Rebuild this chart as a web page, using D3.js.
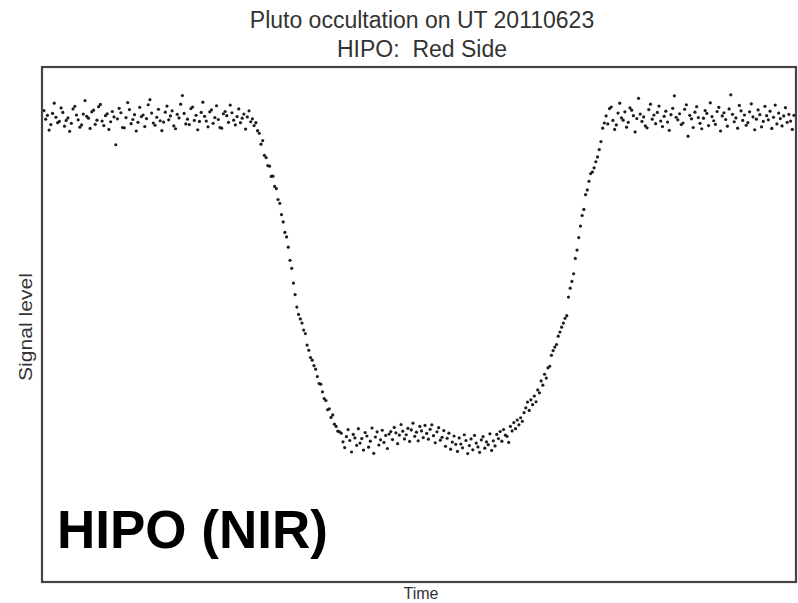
<!DOCTYPE html>
<html>
<head>
<meta charset="utf-8">
<script src="https://cdn.jsdelivr.net/npm/d3@7"></script>
<style>
  body { margin: 0; background: #fff; }
  svg { display: block; font-family: "Liberation Sans", Arial, sans-serif; }
</style>
</head>
<body>
<svg width="798" height="603"></svg>
<script>
// signal level per frame (baseline ~100)
var preEvent = [
  102.3, 99.6, 100.8, 96.2, 97.9, 101.4, 104.6, 100.2, 98.5, 98.9,
  103.1, 101.7, 97.4, 99.2, 100.0, 95.8, 98.3, 102.8, 103.6, 100.9,
  99.4, 97.1, 97.8, 101.2, 105.4, 100.5, 99.9, 96.7, 101.9, 102.4,
  98.0, 99.3, 103.5, 104.2, 99.0, 97.6, 100.7, 101.3, 96.4, 98.8,
  102.0, 100.3, 91.6, 99.7, 103.0, 101.6, 97.0, 96.9, 100.1, 104.8,
  102.6, 98.2, 99.5, 101.0, 95.9, 98.6, 103.3, 100.4, 100.9, 97.3,
  99.8, 104.1, 105.7, 101.5, 98.4, 97.7, 100.2, 102.7, 99.1, 96.0,
  98.7, 101.8, 103.7, 99.4, 100.6, 102.2, 97.5, 96.6, 101.1, 100.0,
  104.3, 107.0, 101.4, 98.1, 99.6, 97.9, 102.9, 103.4, 99.2, 100.8,
  96.3, 98.9, 101.7, 104.9, 100.5, 99.0, 97.2, 101.9, 102.5, 98.3,
  100.1, 103.8, 99.5, 97.0, 96.8, 101.3, 102.0, 100.7, 98.6, 104.0,
  101.6, 99.3, 97.8, 100.4, 102.8, 98.5, 99.9, 101.2, 96.5, 100.3,
  102.2, 98.8, 99.7, 97.6
];
var ingress = [
  98.5, 96.0, 95.2, 91.8, 92.9, 88.3, 87.6, 85.1, 84.9, 81.7,
  81.8, 78.6, 77.9, 74.5, 73.3, 69.8, 67.5, 64.2, 62.8, 59.6,
  55.5, 53.0, 48.4, 44.8, 40.9, 38.6, 37.2, 35.9, 33.7, 32.6,
  29.0, 27.4, 25.1, 24.3, 22.6, 21.5, 19.2, 17.0, 16.8, 14.4,
  12.3, 11.7, 8.8, 9.1, 6.4, 7.2, 4.3, 3.6, 2.1, 1.9
];
var occulted = [
  1.5, -1.2, -3.0, 0.4, 2.6, -0.8, -4.4, 1.1, 0.0, -2.3,
  2.9, -1.6, -0.2, -3.8, 1.7, 0.6, -2.9, -1.0, 3.1, -4.8,
  0.3, 1.9, -2.2, -0.6, 2.4, -1.4, 0.8, -3.3, 1.2, 2.0,
  -0.5, 3.3, 1.6, -1.8, 0.9, 4.2, 2.1, -0.3, 1.0, 3.0,
  -1.1, 2.5, 4.6, 0.5, 1.8, -0.9, 3.6, 2.2, 0.1, 3.9,
  1.4, -0.4, 2.7, 4.1, 0.7, -1.5, 1.9, 3.2, -0.7, 0.2,
  2.3, -2.6, -0.1, 1.5, -3.5, -1.3, 0.6, -2.0, -4.2, 0.0,
  -1.9, -3.1, 1.0, -0.8, -4.9, -2.4, -0.3, -3.7, 0.8, -1.6,
  -2.8, -4.5, -0.6, 0.4, -3.2, -1.2, -2.1, 1.3, -3.9, -0.9,
  -2.5, 1.1, -0.2, 2.0, -1.0, 2.6, 0.9
];
var egress = [
  0.5, -1.4, 3.6, 2.2, 4.8, 2.9, 5.6, 4.1, 6.3, 5.2,
  7.9, 9.4, 11.2, 8.6, 11.9, 10.4, 13.1, 11.3, 15.0, 14.1,
  17.8, 16.5, 19.9, 18.7, 21.9, 22.4, 25.8, 27.3, 28.4, 29.2,
  31.8, 33.1, 34.6, 35.9, 37.4, 38.2, 44.0, 46.8, 48.9, 51.3,
  56.1, 58.7, 62.6, 66.2, 69.5, 71.4, 76.0, 77.5, 80.2, 82.6,
  83.1, 84.4, 86.3, 87.8, 90.1, 92.6, 96.8, 98.4
];
var postEvent = [
  100.6, 98.1, 102.9, 103.4, 99.2, 96.4, 97.8, 101.5, 104.6, 100.0,
  99.3, 101.9, 97.1, 98.6, 103.1, 102.4, 100.7, 95.6, 99.8, 106.1,
  101.2, 98.9, 100.3, 97.5, 96.9, 102.6, 104.3, 99.6, 100.9, 98.2,
  101.7, 103.7, 99.0, 97.3, 100.5, 102.1, 98.7, 96.1, 101.0, 103.0,
  106.9, 100.2, 99.4, 101.3, 97.9, 98.4, 102.7, 104.1, 94.3, 100.8,
  99.7, 97.0, 101.8, 103.5, 100.1, 98.3, 96.6, 99.9, 102.3, 101.4,
  97.6, 104.7, 100.4, 99.1, 98.0, 102.0, 103.3, 95.9, 100.6, 101.6,
  99.5, 97.4, 102.8, 107.2, 101.1, 98.8, 100.0, 96.8, 103.9, 102.2,
  99.2, 100.9, 97.7, 98.5, 101.9, 104.4, 100.3, 96.3, 99.6, 102.5,
  101.0, 97.2, 98.9, 103.6, 100.7, 99.4, 102.1, 96.7, 100.2, 104.0,
  98.1, 101.5, 99.8, 97.5, 100.6, 103.2, 98.6, 101.1, 99.0, 96.4, 100.8
];
var titleLines = ['Pluto occultation on UT 20110623', 'HIPO:  Red Side'];

var signal = preEvent.concat(ingress, occulted, egress, postEvent);

var svg = d3.select('svg');
svg.append('rect').attr('width', 798).attr('height', 603).attr('fill', '#fff');

var x = d3.scaleLinear().domain([0, signal.length - 1]).range([44, 794]);
var y = d3.scaleLinear().domain([-44.7, 115.9]).range([581, 67]);

var defs = svg.append('defs');
defs.append('filter').attr('id', 'soft')
  .append('feGaussianBlur').attr('stdDeviation', 0.5);

svg.append('g').attr('filter', 'url(#soft)')
  .selectAll('circle')
  .data(signal)
  .join('circle')
  .attr('cx', function(d, i) { return x(i); })
  .attr('cy', function(d) { return y(d); })
  .attr('r', 1.6)
  .attr('fill', '#1e1e1e');

// plot frame
svg.append('rect')
  .attr('x', 42).attr('y', 67).attr('width', 754).attr('height', 515)
  .attr('fill', 'none').attr('stroke', '#444').attr('stroke-width', 2.2);

// titles
svg.selectAll('text.title')
  .data(titleLines)
  .join('text')
  .attr('class', 'title')
  .attr('x', 422)
  .attr('y', function(d, i) { return i === 0 ? 28 : 57; })
  .attr('text-anchor', 'middle')
  .attr('font-size', 23)
  .attr('fill', '#333')
  .style('white-space', 'pre')
  .text(function(d) { return d; });

svg.append('text')
  .attr('transform', 'translate(32,327) rotate(-90)')
  .attr('text-anchor', 'middle')
  .attr('font-size', 18)
  .attr('textLength', 108)
  .attr('lengthAdjust', 'spacingAndGlyphs')
  .attr('fill', '#333')
  .text('Signal level');

svg.append('text')
  .attr('x', 421).attr('y', 599)
  .attr('text-anchor', 'middle')
  .attr('font-size', 16)
  .attr('fill', '#333')
  .text('Time');

svg.append('text')
  .attr('x', 57).attr('y', 548)
  .attr('font-size', 53)
  .attr('font-weight', 'bold')
  .attr('fill', '#000')
  .text('HIPO (NIR)');
</script>
</body>
</html>
